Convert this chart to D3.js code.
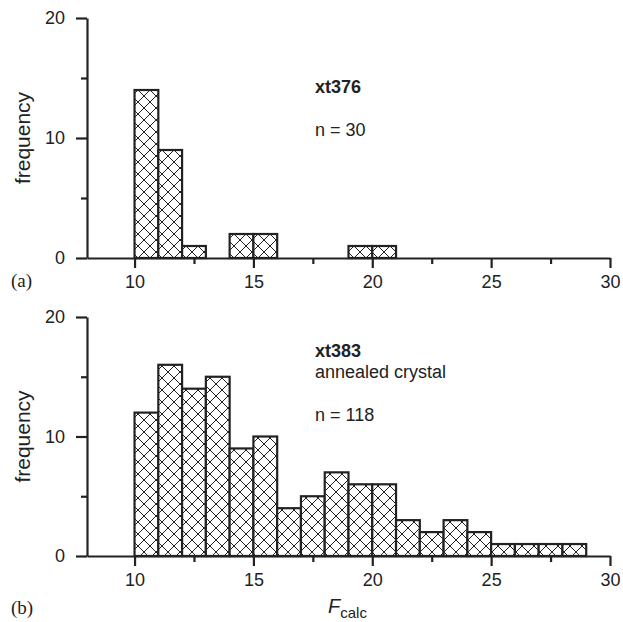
<!DOCTYPE html>
<html>
<head>
<meta charset="utf-8">
<script src="https://cdn.jsdelivr.net/npm/d3@7"></script>
<style>
  body { margin: 0; background: #fff; }
</style>
</head>
<body>
<script>
// bins start at these F_calc values, each 1 wide
var binsA = [10, 11, 12, 14, 15, 19, 20];
var countsA = [14, 9, 1, 2, 2, 1, 1];

var binsB = [10, 11, 12, 13, 14, 15, 16, 17, 18, 19, 20, 21, 22, 23, 24, 25, 26, 27, 28];
var countsB = [12, 16, 14, 15, 9, 10, 4, 5, 7, 6, 6, 3, 2, 3, 2, 1, 1, 1, 1];

var xMajor = [10, 15, 20, 25, 30];
var xMinor = [12.5, 17.5, 22.5, 27.5];
var yMajor = [0, 10, 20];
var yMinor = [5, 15];

var w = 623, h = 622;
var sans = "Liberation Sans, Arial, sans-serif";
var serif = "Liberation Serif, Times New Roman, serif";

var svg = d3.select("body").append("svg")
  .attr("width", w)
  .attr("height", h)
  .style("font-family", sans);

var pat = svg.append("defs").append("pattern")
  .attr("id", "hatch")
  .attr("patternUnits", "userSpaceOnUse")
  .attr("width", 12)
  .attr("height", 12);
pat.append("rect").attr("width", 12).attr("height", 12).attr("fill", "#fff");
pat.append("path")
  .attr("d", "M0,0L12,12M0,12L12,0")
  .attr("stroke", "#222")
  .attr("stroke-width", 1);

var x = d3.scaleLinear().domain([8, 30]).range([87, 610]);

function panel(bins, counts, top, bottom, label, labelY, lines) {
  var y = d3.scaleLinear().domain([0, 20]).range([bottom, top]);
  var g = svg.append("g");

  g.selectAll("rect.bar")
    .data(bins)
    .enter()
    .append("rect")
    .attr("class", "bar")
    .attr("x", function(d){ return x(d); })
    .attr("width", function(d){ return x(d + 1) - x(d); })
    .attr("y", function(d, i){ return y(counts[i]); })
    .attr("height", function(d, i){ return y(0) - y(counts[i]); })
    .attr("fill", "url(#hatch)")
    .attr("stroke", "#222")
    .attr("stroke-width", 2.2);

  // x axis
  var xa = g.append("g").attr("transform", "translate(0," + y(0) + ")")
    .call(d3.axisBottom(x).tickValues(xMajor).tickSize(10).tickPadding(7).tickSizeOuter(0));
  var xm = g.append("g").attr("transform", "translate(0," + y(0) + ")")
    .call(d3.axisBottom(x).tickValues(xMinor).tickSize(6).tickFormat("").tickSizeOuter(0));
  xm.select(".domain").remove();

  // y axis
  var ya = g.append("g").attr("transform", "translate(" + x(8) + ",0)")
    .call(d3.axisLeft(y).tickValues(yMajor).tickSize(11).tickPadding(11).tickSizeOuter(0));
  var ym = g.append("g").attr("transform", "translate(" + x(8) + ",0)")
    .call(d3.axisLeft(y).tickValues(yMinor).tickSize(6).tickFormat("").tickSizeOuter(0));
  ym.select(".domain").remove();

  [xa, xm, ya, ym].forEach(function(a){
    a.selectAll("path, line").attr("stroke", "#222").attr("stroke-width", 2.2);
    a.selectAll("text")
      .attr("font-family", sans)
      .attr("font-size", 18)
      .attr("fill", "#222");
  });

  g.append("text")
    .attr("transform", "translate(30," + y(10) + ") rotate(-90)")
    .attr("text-anchor", "middle")
    .attr("font-size", 21)
    .attr("fill", "#222")
    .text("frequency");

  g.append("text")
    .attr("x", 11)
    .attr("y", labelY)
    .style("font-family", serif)
    .attr("font-size", 19)
    .attr("fill", "#222")
    .text(label);

  lines.forEach(function(l){
    g.append("text")
      .attr("x", 315)
      .attr("y", l.y)
      .attr("font-size", 18)
      .attr("font-weight", l.bold ? "bold" : "normal")
      .attr("fill", "#222")
      .text(l.t);
  });

  return y;
}

panel(binsA, countsA, 18, 258, "(a)", 287, [
  { t: "xt376", y: 93, bold: true },
  { t: "n = 30", y: 136 }
]);

panel(binsB, countsB, 317, 556, "(b)", 614, [
  { t: "xt383", y: 357, bold: true },
  { t: "annealed crystal", y: 378 },
  { t: "n = 118", y: 421 }
]);

var fl = svg.append("text")
  .attr("x", 328)
  .attr("y", 613)
  .attr("font-size", 20)
  .attr("fill", "#222");
fl.append("tspan").attr("font-style", "italic").text("F");
fl.append("tspan").attr("dy", 5).attr("font-size", 15).text("calc");
</script>
</body>
</html>
